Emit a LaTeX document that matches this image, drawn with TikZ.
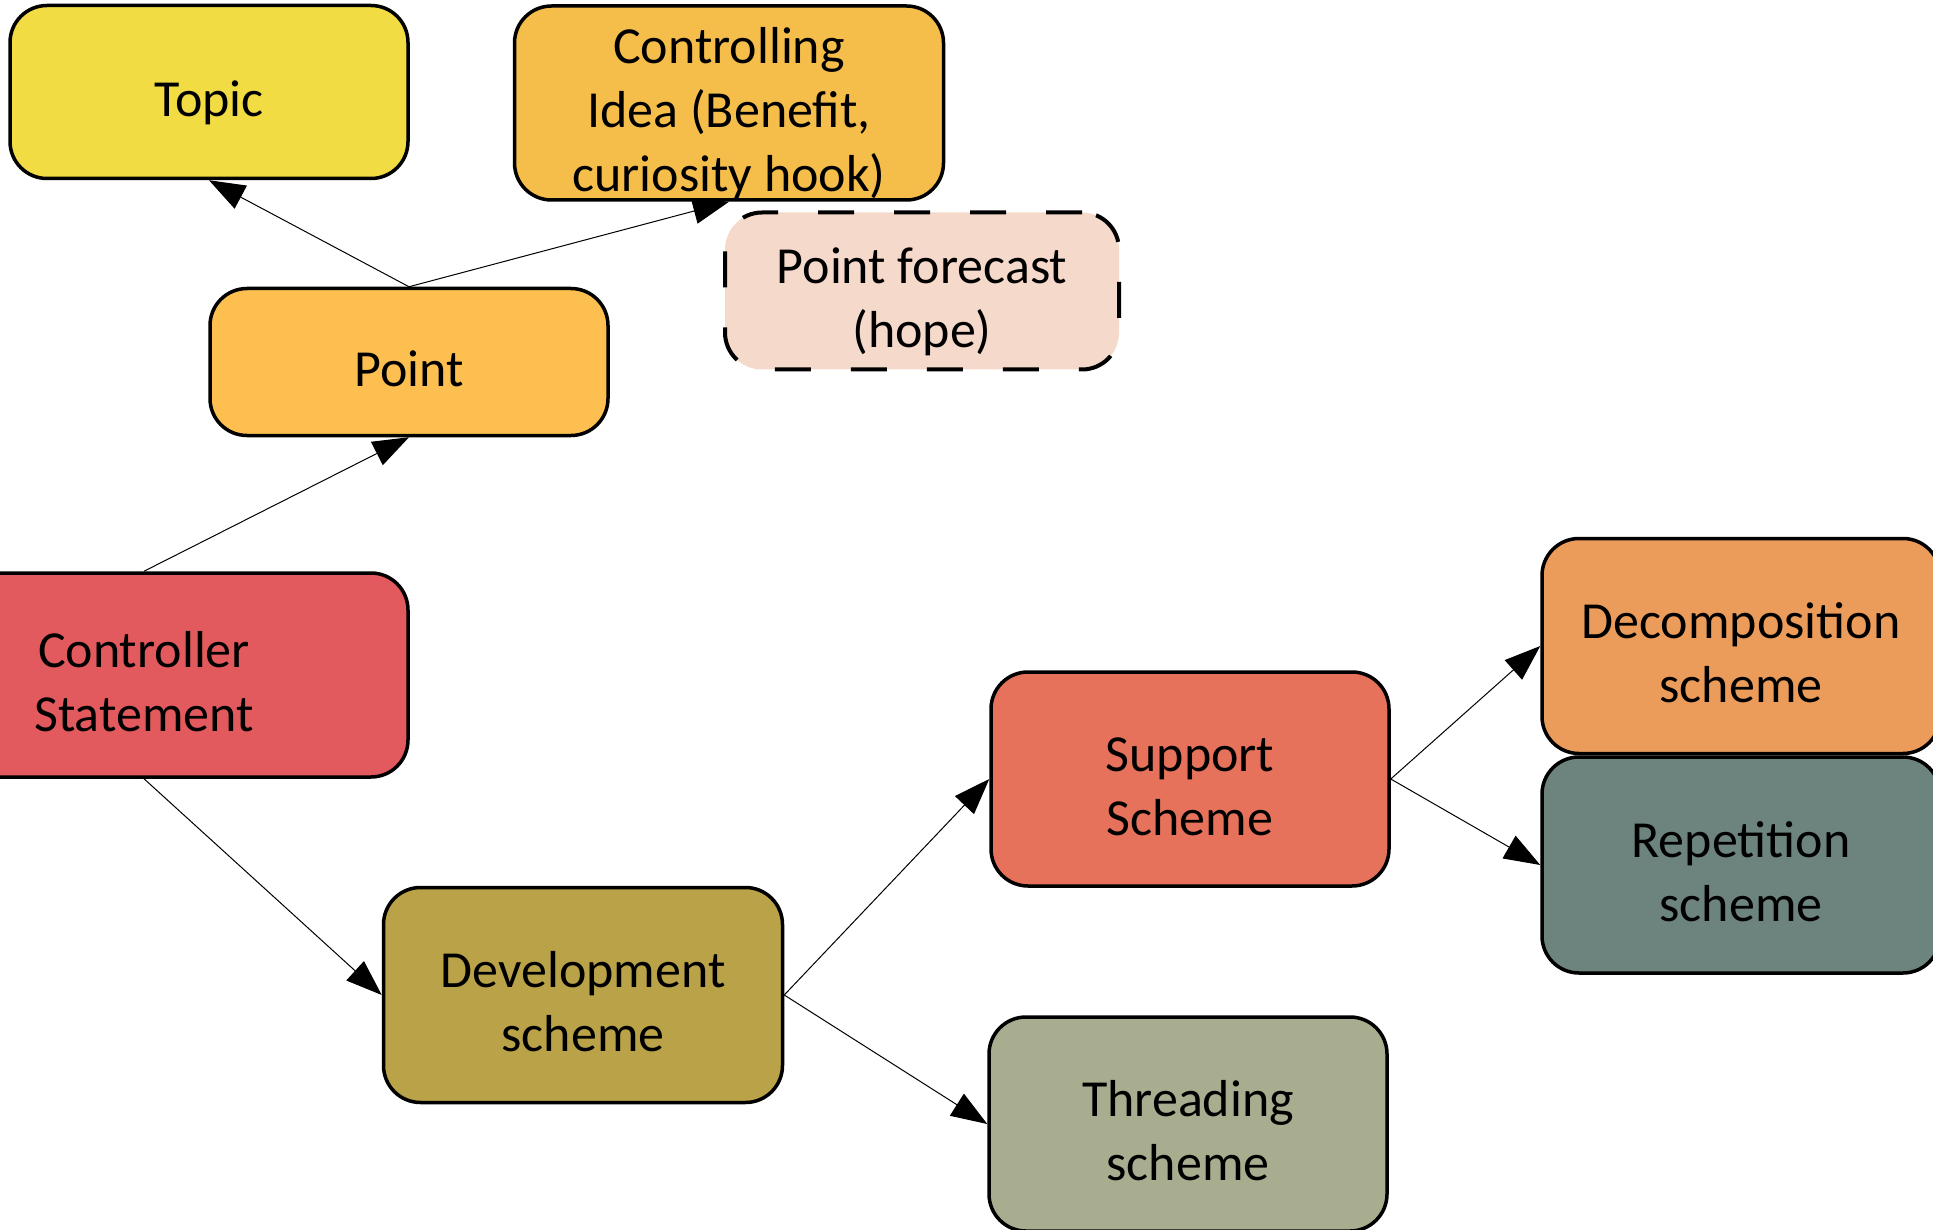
\documentclass[tikz,border=0pt]{standalone}
\usepackage{fontspec}
\setmainfont{Carlito}
\usetikzlibrary{arrows.meta}
\definecolor{cTopic}{HTML}{F2DC44}
\definecolor{cCtrl}{HTML}{F5BE4A}
\definecolor{cFore}{HTML}{F5DACB}
\definecolor{cPoint}{HTML}{FDBF4F}
\definecolor{cStmt}{HTML}{E35A5E}
\definecolor{cDev}{HTML}{B9A247}
\definecolor{cSup}{HTML}{E6725B}
\definecolor{cThr}{HTML}{A9AD90}
\definecolor{cDec}{HTML}{EC9C5A}
\definecolor{cRep}{HTML}{6C837E}
\newcommand\boxtxt[1]{\raisebox{-12pt}[\height][\depth]{\begin{tabular}{@{}c@{}}#1\end{tabular}}}
\tikzset{
  box/.style={draw=black, line width=3.5pt, rounded corners=37pt, inner sep=0pt,
    font=\fontsize{52}{64}\selectfont},
  conn/.style={line width=1pt, -{Triangle[length=36pt,width=26pt]}}
}
\begin{document}
\begin{tikzpicture}[x=1pt,y=-1pt]
\useasboundingbox (0,0) rectangle (1933,1230);
\clip (0,0) rectangle (1933,1230);
\node[box, fill=cTopic, minimum width=398pt, minimum height=173pt] (topic) at (209,92) {\boxtxt{Topic}};
\node[box, fill=cCtrl, minimum width=429pt, minimum height=194pt] (ctrl) at (729,103) {\boxtxt{Controlling\\Idea (Benefit,\\curiosity hook)}};
\node[box, fill=cFore, line width=4pt, dash pattern=on 36pt off 40pt, minimum width=394pt, minimum height=157pt] (fore) at (922,291) {\boxtxt{Point forecast\\(hope)}};
\node[box, fill=cPoint, minimum width=398pt, minimum height=147pt] (point) at (409,362) {\boxtxt{Point}};
\node[box, fill=cStmt, minimum width=528pt, minimum height=204pt] (stmt) at (144,675) {\boxtxt{Controller\\Statement}};
\node[box, fill=cDev, minimum width=399pt, minimum height=215pt] (dev) at (583,995) {\boxtxt{Development\\scheme}};
\node[box, fill=cSup, minimum width=398pt, minimum height=214pt] (sup) at (1190,779) {\boxtxt{Support\\Scheme}};
\node[box, fill=cThr, minimum width=398pt, minimum height=214pt] (thr) at (1188,1124) {\boxtxt{Threading\\scheme}};
\node[box, fill=cDec, minimum width=398pt, minimum height=215pt] (dec) at (1741,646) {\boxtxt{Decomposition\\scheme}};
\node[box, fill=cRep, minimum width=398pt, minimum height=216pt] (rep) at (1741,865) {\boxtxt{Repetition\\scheme}};
\draw[conn] (point.north) -- (topic.south);
\draw[conn] (point.north) -- (ctrl.south);
\draw[conn] (stmt.north) -- (point.south);
\draw[conn] (stmt.south) -- (dev.west);
\draw[conn] (dev.east) -- (sup.west);
\draw[conn] (dev.east) -- (thr.west);
\draw[conn] (sup.east) -- (dec.west);
\draw[conn] (sup.east) -- (rep.west);
\end{tikzpicture}
\end{document}
